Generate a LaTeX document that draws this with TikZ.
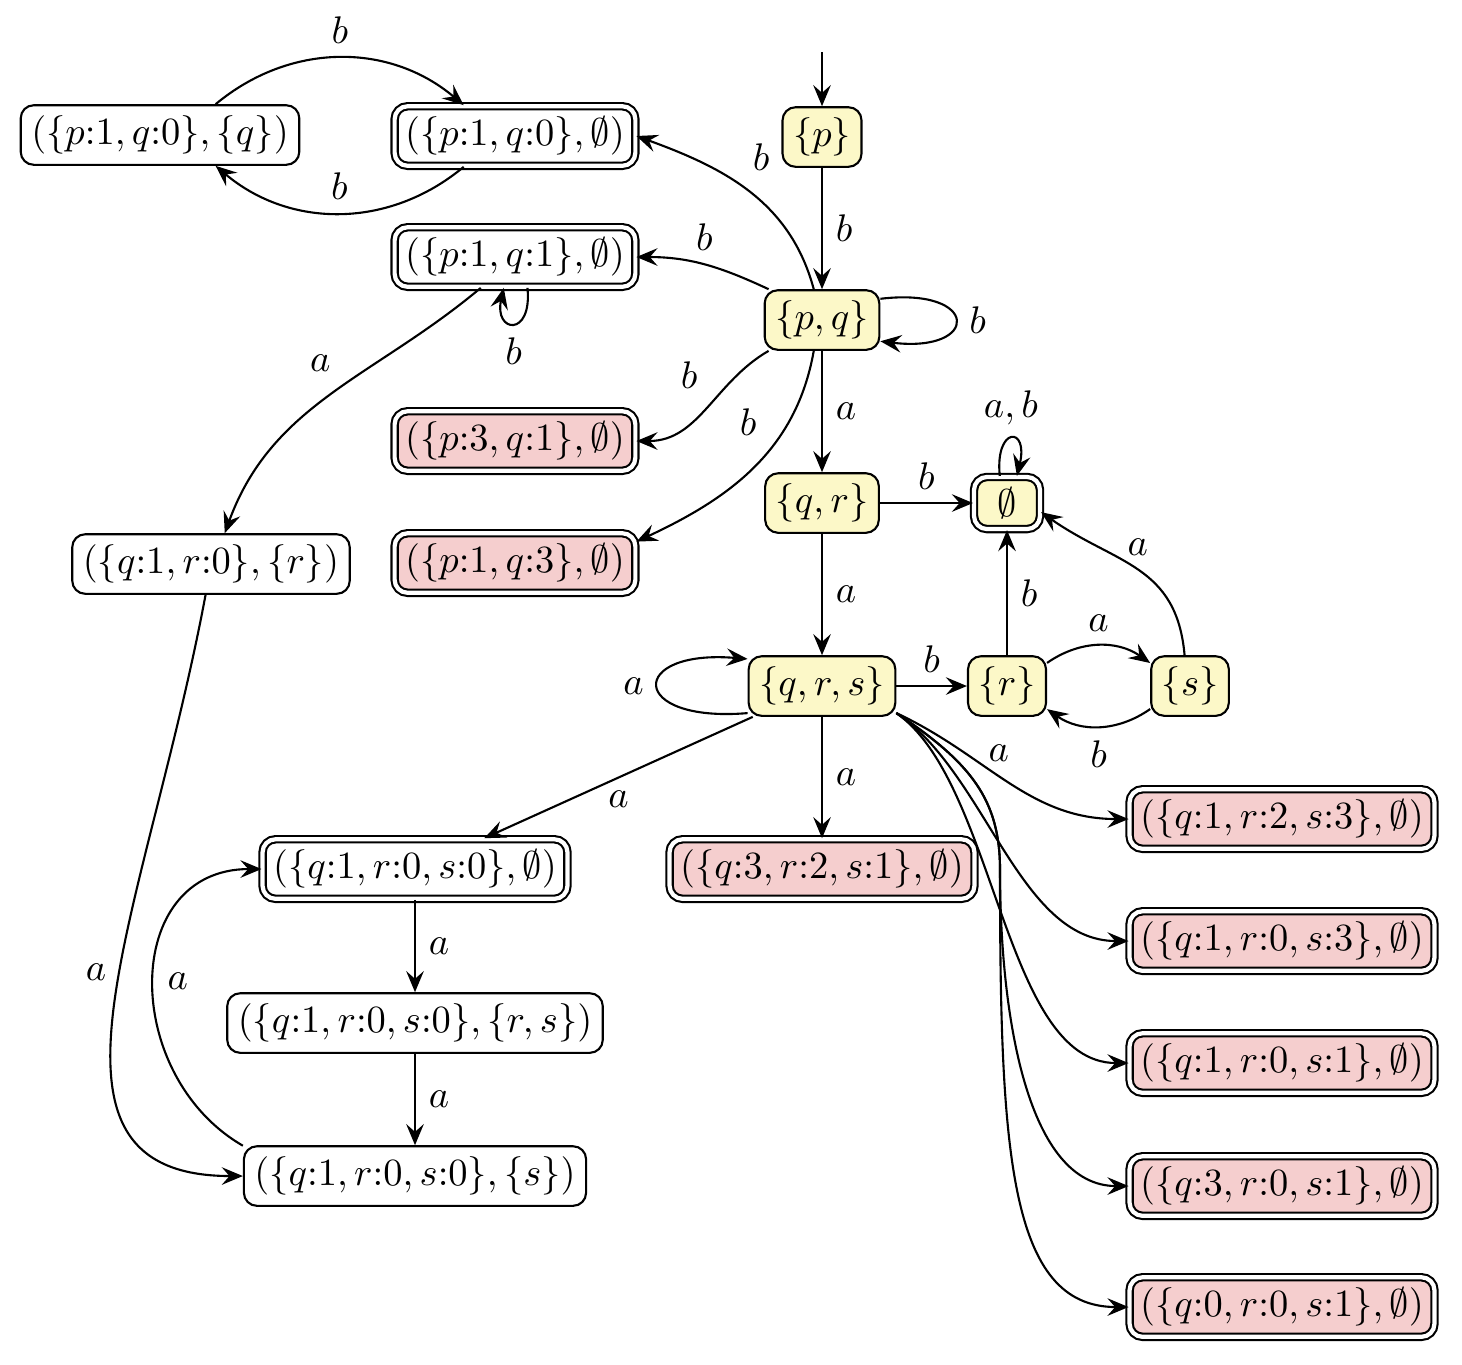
\documentclass[tikz,border=0pt,11pt]{standalone}
\usepackage{amsmath}
\usepackage{amssymb}
\usetikzlibrary{arrows.meta}

\definecolor{setyellow}{RGB}{252,248,200}
\definecolor{deadpink}{RGB}{245,206,206}

\tikzset{
  state/.style={draw, semithick, rounded corners=1.3mm, inner sep=3pt},
  subset/.style={state, fill=setyellow},
  final/.style={state, double, double distance=1.2pt},
  dead/.style={final, fill=deadpink}
}

\begin{document}
\begin{tikzpicture}[>={Stealth[length=6pt,width=5pt,inset=2.2pt]}, semithick]
    \useasboundingbox (0,0) rectangle (14.62,-13.64);

    % --- subset automaton ---
    \node[subset] (p) at (8.22,-1.37) {$\{p\}$};
    \node[subset] (pq) at (8.22,-3.20) {$\{p,q\}$};
    \node[subset] (qr) at (8.22,-5.03) {$\{q,r\}$};
    \node[subset, final, minimum width=6.6mm] (z) at (10.07,-5.03) {$\emptyset$};
    \node[subset] (qrs) at (8.22,-6.86) {$\{q,r,s\}$};
    \node[subset] (r) at (10.07,-6.86) {$\{r\}$};
    \node[subset] (s) at (11.90,-6.86) {$\{s\}$};

    % --- ranked states ---
    \node[state] (a10q) at (1.60,-1.35) {$(\{p{:}1,q{:}0\},\{q\})$};
    \node[final] (a10) at (5.15,-1.36) {$(\{p{:}1,q{:}0\},\emptyset)$};
    \node[final] (a11) at (5.15,-2.57) {$(\{p{:}1,q{:}1\},\emptyset)$};
    \node[dead] (a31) at (5.15,-4.41) {$(\{p{:}3,q{:}1\},\emptyset)$};
    \node[dead] (a13) at (5.15,-5.63) {$(\{p{:}1,q{:}3\},\emptyset)$};
    \node[state] (b10r) at (2.11,-5.64) {$(\{q{:}1,r{:}0\},\{r\})$};
    \node[final] (c100) at (4.15,-8.69) {$(\{q{:}1,r{:}0,s{:}0\},\emptyset)$};
    \node[state] (c100rs) at (4.15,-10.23) {$(\{q{:}1,r{:}0,s{:}0\},\{r,s\})$};
    \node[state] (c100s) at (4.15,-11.76) {$(\{q{:}1,r{:}0,s{:}0\},\{s\})$};
    \node[dead] (c321) at (8.22,-8.69) {$(\{q{:}3,r{:}2,s{:}1\},\emptyset)$};

    % right column
    \node[dead] (d123) at (12.82,-8.19) {$(\{q{:}1,r{:}2,s{:}3\},\emptyset)$};
    \node[dead] (d103) at (12.82,-9.41) {$(\{q{:}1,r{:}0,s{:}3\},\emptyset)$};
    \node[dead] (d101) at (12.82,-10.63) {$(\{q{:}1,r{:}0,s{:}1\},\emptyset)$};
    \node[dead] (d301) at (12.82,-11.86) {$(\{q{:}3,r{:}0,s{:}1\},\emptyset)$};
    \node[dead] (d001) at (12.82,-13.07) {$(\{q{:}0,r{:}0,s{:}1\},\emptyset)$};

    % --- transitions of the subset part ---
    \coordinate (start) at (8.22,-0.52);
    \draw[->] (start) -- (p);
    \draw[->] (p) -- node[right] {$b$} (pq);
    \draw[->] (pq.20) .. controls +(1.0,0.12) and +(1.0,-0.12) .. node[right] {$b$} (pq.-20);
    \draw[->] (pq) -- node[right] {$a$} (qr);
    \draw[->] (qr) -- node[above] {$b$} (z);
    \draw[->] (z.105) .. controls +(-0.05,0.5) and +(0.12,0.5) .. node[above] {$a,b$} (z.70);
    \draw[->] (qr) -- node[right] {$a$} (qrs);
    \draw[->] (qrs.200) .. controls +(-1.2,-0.1) and +(-1.2,0.1) .. node[left] {$a$} (qrs.160);
    \draw[->] (qrs) -- node[above] {$b$} (r);
    \draw[->] (r) -- node[right] {$b$} (z);
    \draw[->] (r.30) to[bend left=35] node[above] {$a$} (s.150);
    \draw[->] (s.210) to[bend left=35] node[below] {$b$} (r.330);
    \draw[->] (s.100) to[out=95, in=-35, looseness=1.15] node[pos=0.5, above] {$a$} (z.-15);

    % --- from {p,q} ---
    \draw[->] (pq.105) to[out=105, in=-20] node[pos=0.55, above right] {$b$} (a10.east);
    \draw[->] (pq.150) to[out=155, in=0] node[above] {$b$} (a11.east);
    \draw[->] (pq.210) to[out=210, in=0] node[pos=0.45, above left] {$b$} (a31.east);
    \draw[->] (pq.255) to[out=-100, in=25] node[pos=0.4, above left] {$b$} (a13.10);

    % --- ranked part ---
    \draw[->] (a10q.29) to[bend left=40] node[above] {$b$} (a10.149);
    \draw[->] (a10.211) to[bend left=40] node[above] {$b$} (a10q.331);
    \draw[->] (a11.-68) .. controls +(0.05,-0.5) and +(-0.1,-0.45) .. node[below] {$b$} (a11.-110);
    \draw[->] (a11.-138) to[out=-140, in=70] node[pos=0.45, above left] {$a$} (b10r.66);
    \draw[->] (b10r.-100) .. controls +(-0.6,-3.2) and +(-2.3,0) .. node[pos=0.45, left] {$a$} (c100s.west);
    \draw[->] (c100s.170) to[out=150, in=180, looseness=1.3] node[right] {$a$} (c100.west);
    \draw[->] (c100) -- node[right] {$a$} (c100rs);
    \draw[->] (c100rs) -- node[right] {$a$} (c100s);

    % --- from {q,r,s} ---
    \coordinate (fan) at (10.0,-8.7);
    \draw[->] (qrs.204) -- node[below] {$a$} (c100.24);
    \draw[->] (qrs) -- node[right] {$a$} (c321);
    \draw[->] (qrs.-20) to[out=-25, in=180] node[pos=0.45, above] {$a$} (d123.west);
    \draw[->] (qrs.-20) .. controls +(0.9,-0.6) and +(-1.1,0) .. (d103.west);
    \draw[->] (qrs.-20) .. controls +(1.0,-0.7) and +(-1.25,0) .. (d101.west);
    \draw[->] (qrs.-20) .. controls +(0.75,-0.5) and +(0,0.7) .. (fan)
        .. controls +(0,-1.5) and +(-1.0,0) .. (d301.west);
    \draw[->] (qrs.-20) .. controls +(0.75,-0.5) and +(0,0.7) .. (fan)
        .. controls +(0,-2.8) and +(-1.2,0) .. (d001.west);

\end{tikzpicture}
\end{document}
